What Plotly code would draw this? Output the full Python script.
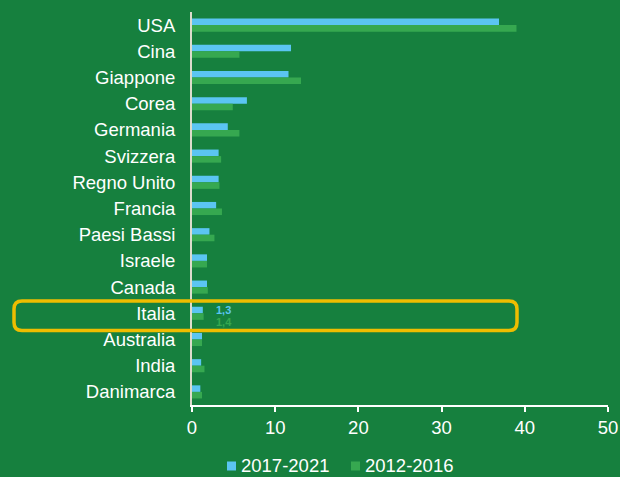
import plotly.graph_objects as go

# Countries, top to bottom
paesi = ["USA", "Cina", "Giappone", "Corea", "Germania", "Svizzera", "Regno Unito",
         "Francia", "Paesi Bassi", "Israele", "Canada", "Italia", "Australia",
         "India", "Danimarca"]

# Share values per period
val_2017_2021 = [36.9, 11.9, 11.6, 6.6, 4.3, 3.2, 3.2, 2.9, 2.1, 1.8, 1.8, 1.3, 1.2, 1.1, 1.0]
val_2012_2016 = [39.0, 5.7, 13.1, 4.9, 5.7, 3.5, 3.3, 3.6, 2.7, 1.8, 1.9, 1.4, 1.2, 1.5, 1.2]
periodi = ["2017-2021", "2012-2016"]

x_ticks = [0, 10, 20, 30, 40, 50]

BG = "#16803e"
BLUE = "#5bc5f2"
GREEN = "#36a850"
GOLD = "#eebd00"
FONT = "Liberation Sans, Arial, sans-serif"

W, H = 620, 477
ML, MR, MT, MB = 192, 12, 12, 72
PW, PH = W - ML - MR, H - MT - MB


def px(xp):
    return (xp - ML) / PW


def py(yp):
    return (H - MB - yp) / PH


fig = go.Figure()
fig.add_trace(go.Bar(y=paesi, x=val_2017_2021, orientation="h", name=periodi[0],
                     marker=dict(color=BLUE, line=dict(width=0))))
fig.add_trace(go.Bar(y=paesi, x=val_2012_2016, orientation="h", name=periodi[1],
                     marker=dict(color=GREEN, line=dict(width=0))))

# Value labels for Italia
i_it = paesi.index("Italia")
fig.add_annotation(x=2.6, y=paesi[i_it], text="<b>%s</b>" % str(val_2017_2021[i_it]).replace(".", ","),
                   showarrow=False, xanchor="left", yanchor="middle", yshift=3,
                   font=dict(family=FONT, size=11, color=BLUE))
fig.add_annotation(x=2.6, y=paesi[i_it], text="<b>%s</b>" % str(val_2012_2016[i_it]).replace(".", ","),
                   showarrow=False, xanchor="left", yanchor="middle", yshift=-9,
                   font=dict(family=FONT, size=11, color=GREEN))

# Rounded highlight frame around the Italia row
x0, x1, y0, y1, r = 14, 517, 301, 330.5, 8
path = (
    f"M {px(x0 + r)},{py(y0)} L {px(x1 - r)},{py(y0)} "
    f"Q {px(x1)},{py(y0)} {px(x1)},{py(y0 + r)} "
    f"L {px(x1)},{py(y1 - r)} Q {px(x1)},{py(y1)} {px(x1 - r)},{py(y1)} "
    f"L {px(x0 + r)},{py(y1)} Q {px(x0)},{py(y1)} {px(x0)},{py(y1 - r)} "
    f"L {px(x0)},{py(y0 + r)} Q {px(x0)},{py(y0)} {px(x0 + r)},{py(y0)} Z"
)
fig.add_shape(type="path", xref="paper", yref="paper", path=path,
              line=dict(color=GOLD, width=3.5), layer="above")

# Compact legend: small square swatch followed closely by the period label
leg_y = 465
for (sq_x, colore, testo) in [(227, BLUE, periodi[0]), (351, GREEN, periodi[1])]:
    fig.add_shape(type="rect", xref="paper", yref="paper",
                  x0=px(sq_x), x1=px(sq_x + 9), y0=py(leg_y - 3.5), y1=py(leg_y + 5.5),
                  fillcolor=colore, line=dict(width=0))
    fig.add_annotation(xref="paper", yref="paper", x=px(sq_x + 12), y=py(leg_y),
                       xanchor="left", yanchor="middle", showarrow=False, text=testo,
                       font=dict(family=FONT, size=18.5, color="white"))

fig.update_layout(
    width=W, height=H,
    margin=dict(l=ML, r=MR, t=MT, b=MB, autoexpand=False),
    paper_bgcolor=BG, plot_bgcolor=BG,
    barmode="group", bargap=0.5, bargroupgap=0,
    font=dict(family=FONT, size=18.5, color="white"),
    showlegend=False,
    xaxis=dict(range=[0, 50], tickvals=x_ticks, showgrid=False, zeroline=False,
               showline=True, linecolor="white", linewidth=1.5,
               ticks="outside", ticklen=5, tickcolor="white", tickwidth=1.5,
               tickfont=dict(size=18.5, color="white")),
    yaxis=dict(autorange="reversed", showgrid=False, zeroline=False,
               showline=True, linecolor="#dcdccc", linewidth=2,
               ticks="", ticklabelstandoff=11,
               tickfont=dict(size=18.5, color="white")),
)

fig.write_html("out.html")
